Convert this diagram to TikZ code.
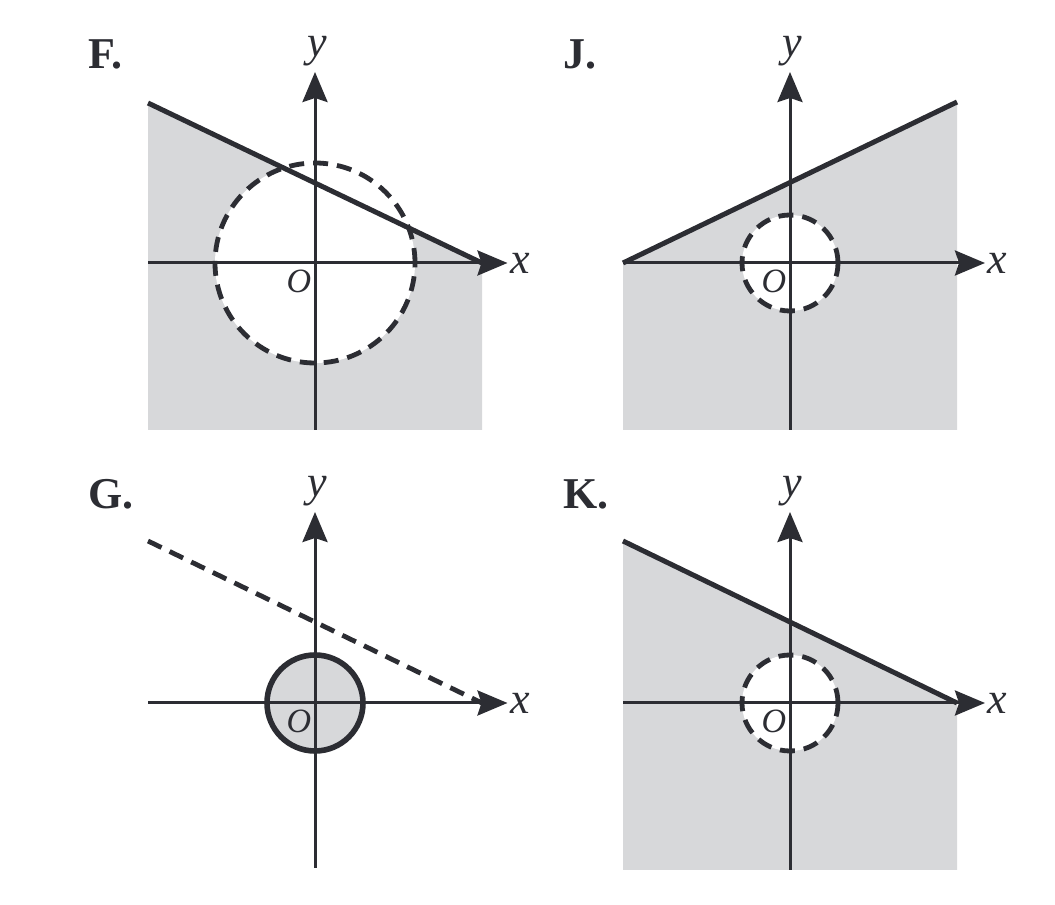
\documentclass[tikz,border=0pt]{standalone}
\usepackage{fontspec}
\setmainfont{Liberation Serif}
\usetikzlibrary{arrows.meta}
\definecolor{inkgray}{RGB}{44,45,51}
\definecolor{shadegray}{RGB}{215,216,218}

\tikzset{
  axisline/.style={draw=inkgray, line width=1.5pt, -{Stealth[length=15pt,width=12.5pt,inset=2pt]}},
  bound/.style={draw=inkgray, line width=2.5pt},
  dashbound/.style={bound, line width=2.4pt, dash pattern=on 7.5pt off 4.5pt},
  region/.style={fill=shadegray},
  axlabel/.style={font=\fontsize{22}{22}\selectfont\itshape, text=inkgray, inner sep=0pt},
  olabel/.style={font=\fontsize{17}{17}\selectfont\itshape, text=inkgray, inner sep=0pt},
  choice/.style={font=\fontsize{22}{22}\selectfont\bfseries, text=inkgray, inner sep=0pt, anchor=west},
}

\begin{document}
\begin{tikzpicture}[x=25pt, y=25pt]
    \useasboundingbox (0,0) rectangle (21.1,18.1);

    % F: shaded below the line, open circle cut out
    \begin{scope}[shift={(6.3,12.84)}]
        \fill[region] (-3.34,3.2) -- (3.34,0) -- (3.34,-3.34) -- (-3.34,-3.34) -- cycle;
        \fill[white] (0,0) circle (2);
        \draw[axisline] (-3.34,0) -- (3.85,0);
        \draw[axisline] (0,-3.34) -- (0,3.82);
        \draw[bound] (-3.34,3.2) -- (3.34,0);
        \draw[dashbound] (0,0) circle (2);
        \node[axlabel] (xF) at (4.1,0) {x};
        \node[axlabel] (yF) at (0.05,4.23) {y};
        \node[olabel] (oF) at (-0.32,-0.36) {O};
        \node[choice] (labF) at (-4.54,4.18) {F.};
    \end{scope}

    % J: rising line, small open circle
    \begin{scope}[shift={(15.8,12.84)}]
        \fill[region] (-3.34,0) -- (3.34,3.22) -- (3.34,-3.34) -- (-3.34,-3.34) -- cycle;
        \fill[white] (0,0) circle (0.96);
        \draw[axisline] (-3.34,0) -- (3.9,0);
        \draw[axisline] (0,-3.34) -- (0,3.82);
        \draw[bound] (-3.34,0) -- (3.34,3.22);
        \draw[dashbound] (0,0) circle (0.96);
        \node[axlabel] (xJ) at (4.15,0) {x};
        \node[axlabel] (yJ) at (0.05,4.23) {y};
        \node[olabel] (oJ) at (-0.32,-0.36) {O};
        \node[choice] (labJ) at (-4.54,4.18) {J.};
    \end{scope}

    % G: dashed line, filled disc
    \begin{scope}[shift={(6.3,4.04)}]
        \fill[region] (0,0) circle (0.96);
        \draw[axisline] (-3.34,0) -- (3.85,0);
        \draw[axisline] (0,-3.3) -- (0,3.82);
        \draw[dashbound] (-3.34,3.24) -- (3.34,0);
        \draw[bound, line width=2.8pt] (0,0) circle (0.96);
        \node[axlabel] (xG) at (4.1,0) {x};
        \node[axlabel] (yG) at (0.05,4.23) {y};
        \node[olabel] (oG) at (-0.32,-0.36) {O};
        \node[choice] (labG) at (-4.54,4.17) {G.};
    \end{scope}

    % K: falling line, small open circle
    \begin{scope}[shift={(15.8,4.04)}]
        \fill[region] (-3.34,3.24) -- (3.34,0) -- (3.34,-3.34) -- (-3.34,-3.34) -- cycle;
        \fill[white] (0,0) circle (0.96);
        \draw[axisline] (-3.34,0) -- (3.9,0);
        \draw[axisline] (0,-3.34) -- (0,3.82);
        \draw[bound] (-3.34,3.24) -- (3.34,0);
        \draw[dashbound] (0,0) circle (0.96);
        \node[axlabel] (xK) at (4.15,0) {x};
        \node[axlabel] (yK) at (0.05,4.23) {y};
        \node[olabel] (oK) at (-0.32,-0.36) {O};
        \node[choice] (labK) at (-4.54,4.17) {K.};
    \end{scope}
\end{tikzpicture}
\end{document}
